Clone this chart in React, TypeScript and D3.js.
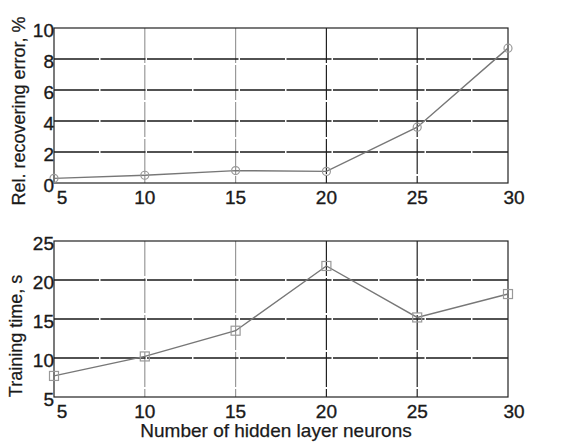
import React from "react";
import * as d3 from "d3";

const neurons = [5, 10, 15, 20, 25, 30];
const relError = [0.3, 0.5, 0.8, 0.75, 3.6, 8.7];
const trainTime = [7.7, 10.2, 13.5, 21.8, 15.2, 18.2];
const errorTicks = [0, 2, 4, 6, 8, 10];
const timeTicks = [5, 10, 15, 20, 25];

const W = 565, H = 446;
const left = 54, right = 508;
const font = "'Liberation Sans', Arial, sans-serif";

const x = d3.scaleLinear().domain([5, 30]).range([left, right]);

function Panel({ top, bottom, domain, ticks, values, label, marker, labelX, labelY }) {
  const y = d3.scaleLinear().domain(domain).range([bottom, top]);
  const line = d3.line<number>()
    .x((d, i) => x(neurons[i]))
    .y(d => y(d));
  const txt = { fontSize: 19, fontFamily: font, fill: "#1a1a1a", stroke: "#1a1a1a", strokeWidth: 0.35 };
  return (
    <g>
      {neurons.slice(1, -1).map(n => (
        <line key={"v" + n} x1={x(n)} x2={x(n)} y1={top} y2={bottom}
          stroke={n >= 20 ? "#222" : "#999"} strokeWidth={1.2} strokeDasharray="35,2" />
      ))}
      {ticks.slice(1, -1).map(t => (
        <line key={"h" + t} x1={left} x2={right} y1={y(t)} y2={y(t)}
          stroke="#1a1a1a" strokeWidth={1.5} strokeDasharray="45,1.5" />
      ))}
      <rect x={left} y={top} width={right - left} height={bottom - top}
        fill="none" stroke="#222" strokeWidth={1.2} />
      <path d={line(values) || ""} fill="none" stroke="#777" strokeWidth={1.4} />
      {values.map((v, i) => marker === "circle" ? (
        <circle key={i} cx={x(neurons[i])} cy={y(v)} r={4} fill="none" stroke="#999" strokeWidth={1.2} />
      ) : (
        <rect key={i} x={x(neurons[i]) - 4.5} y={y(v) - 4.5} width={9} height={9}
          fill="none" stroke="#999" strokeWidth={1.2} />
      ))}
      {ticks.map(t => (
        <text key={"yt" + t} x={left} y={y(t) + 9} textAnchor="end" {...txt}>{t}</text>
      ))}
      {neurons.map(n => (
        <text key={"xt" + n} x={x(n) + (n === 5 ? 8 : n === 30 ? 6 : 0)} y={bottom + 21}
          textAnchor="middle" {...txt}>{n}</text>
      ))}
      <text transform={`translate(${labelX},${labelY}) rotate(-90)`} textAnchor="middle"
        {...txt} fontSize={18} strokeWidth={0.25}>{label}</text>
    </g>
  );
}

export default function App() {
  return (
    <svg width={W} height={H} style={{ position: "absolute", left: 0, top: 0, background: "#fff" }}>
      <Panel top={28} bottom={183} domain={[0, 10]} ticks={errorTicks} values={relError}
        label="Rel. recovering error, %" marker="circle" labelX={25} labelY={111} />
      <Panel top={241} bottom={397} domain={[5, 25]} ticks={timeTicks} values={trainTime}
        label="Training time, s" marker="square" labelX={22} labelY={336} />
      <text x={276} y={437} textAnchor="middle" fontSize={19} fontFamily={font}
        fill="#1a1a1a" stroke="#1a1a1a" strokeWidth={0.25}>
        Number of hidden layer neurons
      </text>
    </svg>
  );
}
